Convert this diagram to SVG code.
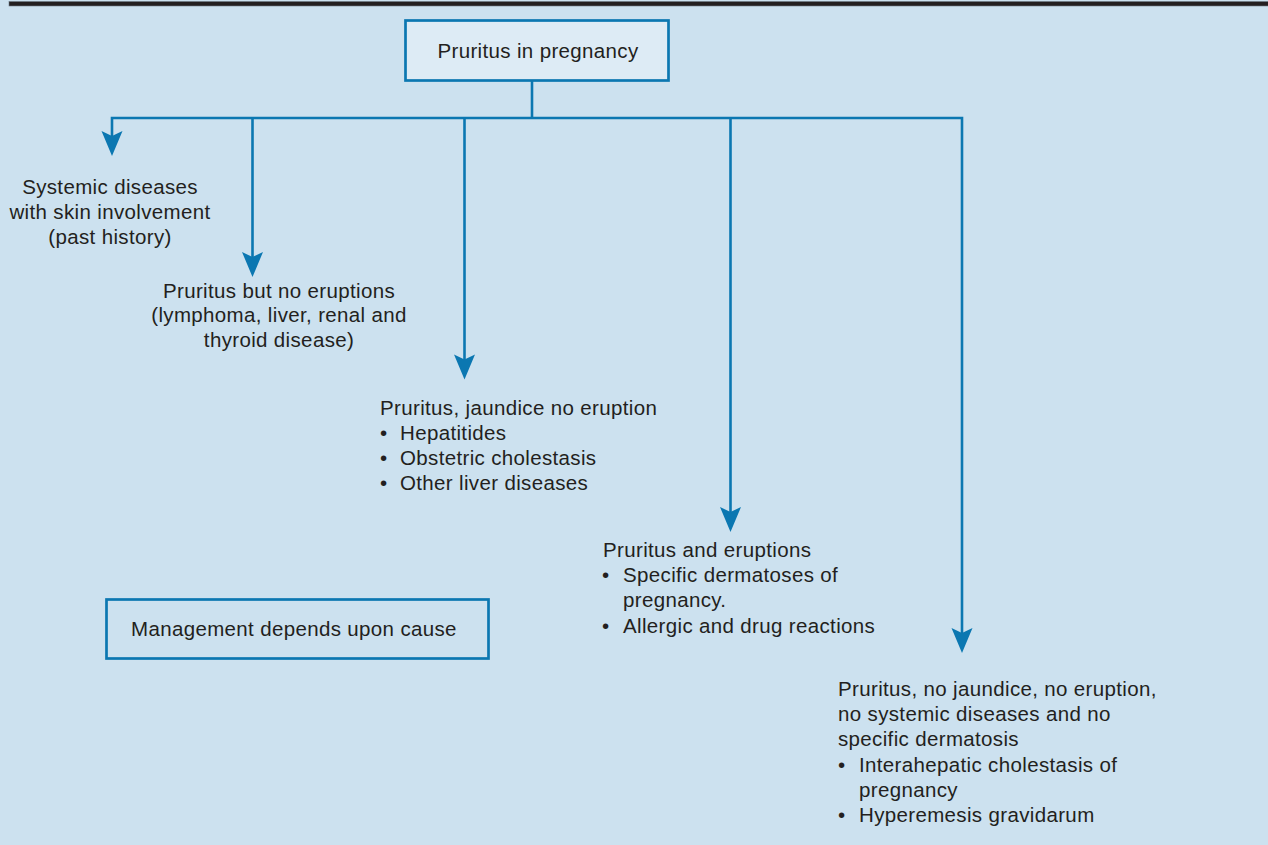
<svg xmlns="http://www.w3.org/2000/svg" width="1268" height="845" viewBox="0 0 1268 845">
  <style>
    .bg { fill: #cce1ef; }
    .box { stroke: #0b77b1; stroke-width: 2.7; }
    .t { font-family: "Liberation Sans", Arial, Helvetica, sans-serif; font-size: 20.5px; letter-spacing: 0.35px; fill: #231f20; }
    .c { text-anchor: middle; }
    .wire { fill: none; stroke: #0b77b1; stroke-width: 2.6; stroke-linejoin: miter; }
  </style>
  <defs>
    <marker id="head" markerUnits="userSpaceOnUse" viewBox="-8 -12 28 24" markerWidth="28" markerHeight="24" refX="0" refY="0" orient="auto-start-reverse">
      <path d="M18,0 L-7,-10.5 L-2,0 L-7,10.5 Z" fill="#0b77b1"/>
    </marker>
  </defs>

  <rect class="bg" x="0" y="0" width="1268" height="845"/>
  <!-- heading rule -->
  <rect x="9" y="1.5" width="1260" height="4.5" fill="#231f20" stroke="#6f7a84" stroke-width="0.6"/>

  <g id="connectors">
    <path class="wire" d="M532,81 V118"/>
    <path class="wire" d="M112,138 V118 H962 V635" marker-start="url(#head)" marker-end="url(#head)"/>
    <path class="wire" d="M252.5,118 V259" marker-end="url(#head)"/>
    <path class="wire" d="M464.5,118 V361.5" marker-end="url(#head)"/>
    <path class="wire" d="M730.5,118 V514" marker-end="url(#head)"/>
  </g>

  <g id="root">
    <rect class="box" x="405.5" y="20.5" width="263" height="60" fill="#ddebf5"/>
    <text class="t c" x="538" y="58">Pruritus in pregnancy</text>
  </g>

  <g id="systemic">
    <text class="t c" x="110" y="194">Systemic diseases</text>
    <text class="t c" x="110" y="219">with skin involvement</text>
    <text class="t c" x="110" y="243.5">(past history)</text>
  </g>

  <g id="no-eruptions">
    <text class="t c" x="279" y="297.5">Pruritus but no eruptions</text>
    <text class="t c" x="279" y="322">(lymphoma, liver, renal and</text>
    <text class="t c" x="279" y="347">thyroid disease)</text>
  </g>

  <g id="jaundice">
    <text class="t" x="380" y="415">Pruritus, jaundice no eruption</text>
    <text class="t" x="380" y="440">•</text><text class="t" x="400" y="440">Hepatitides</text>
    <text class="t" x="380" y="465">•</text><text class="t" x="400" y="465">Obstetric cholestasis</text>
    <text class="t" x="380" y="490">•</text><text class="t" x="400" y="490">Other liver diseases</text>
  </g>

  <g id="eruptions">
    <text class="t" x="603" y="557">Pruritus and eruptions</text>
    <text class="t" x="602" y="582">•</text><text class="t" x="623" y="582">Specific dermatoses of</text>
    <text class="t" x="623" y="607">pregnancy.</text>
    <text class="t" x="602" y="632.5">•</text><text class="t" x="623" y="632.5">Allergic and drug reactions</text>
  </g>

  <g id="no-jaundice">
    <text class="t" x="838" y="696">Pruritus, no jaundice, no eruption,</text>
    <text class="t" x="838" y="721">no systemic diseases and no</text>
    <text class="t" x="838" y="746">specific dermatosis</text>
    <text class="t" x="838" y="771.5">•</text><text class="t" x="859" y="771.5">Interahepatic cholestasis of</text>
    <text class="t" x="859" y="796.5">pregnancy</text>
    <text class="t" x="838" y="822">•</text><text class="t" x="859" y="822">Hyperemesis gravidarum</text>
  </g>

  <g id="management">
    <rect class="box" x="106.5" y="599.5" width="382" height="59" fill="none"/>
    <text class="t" x="131" y="636">Management depends upon cause</text>
  </g>
</svg>
